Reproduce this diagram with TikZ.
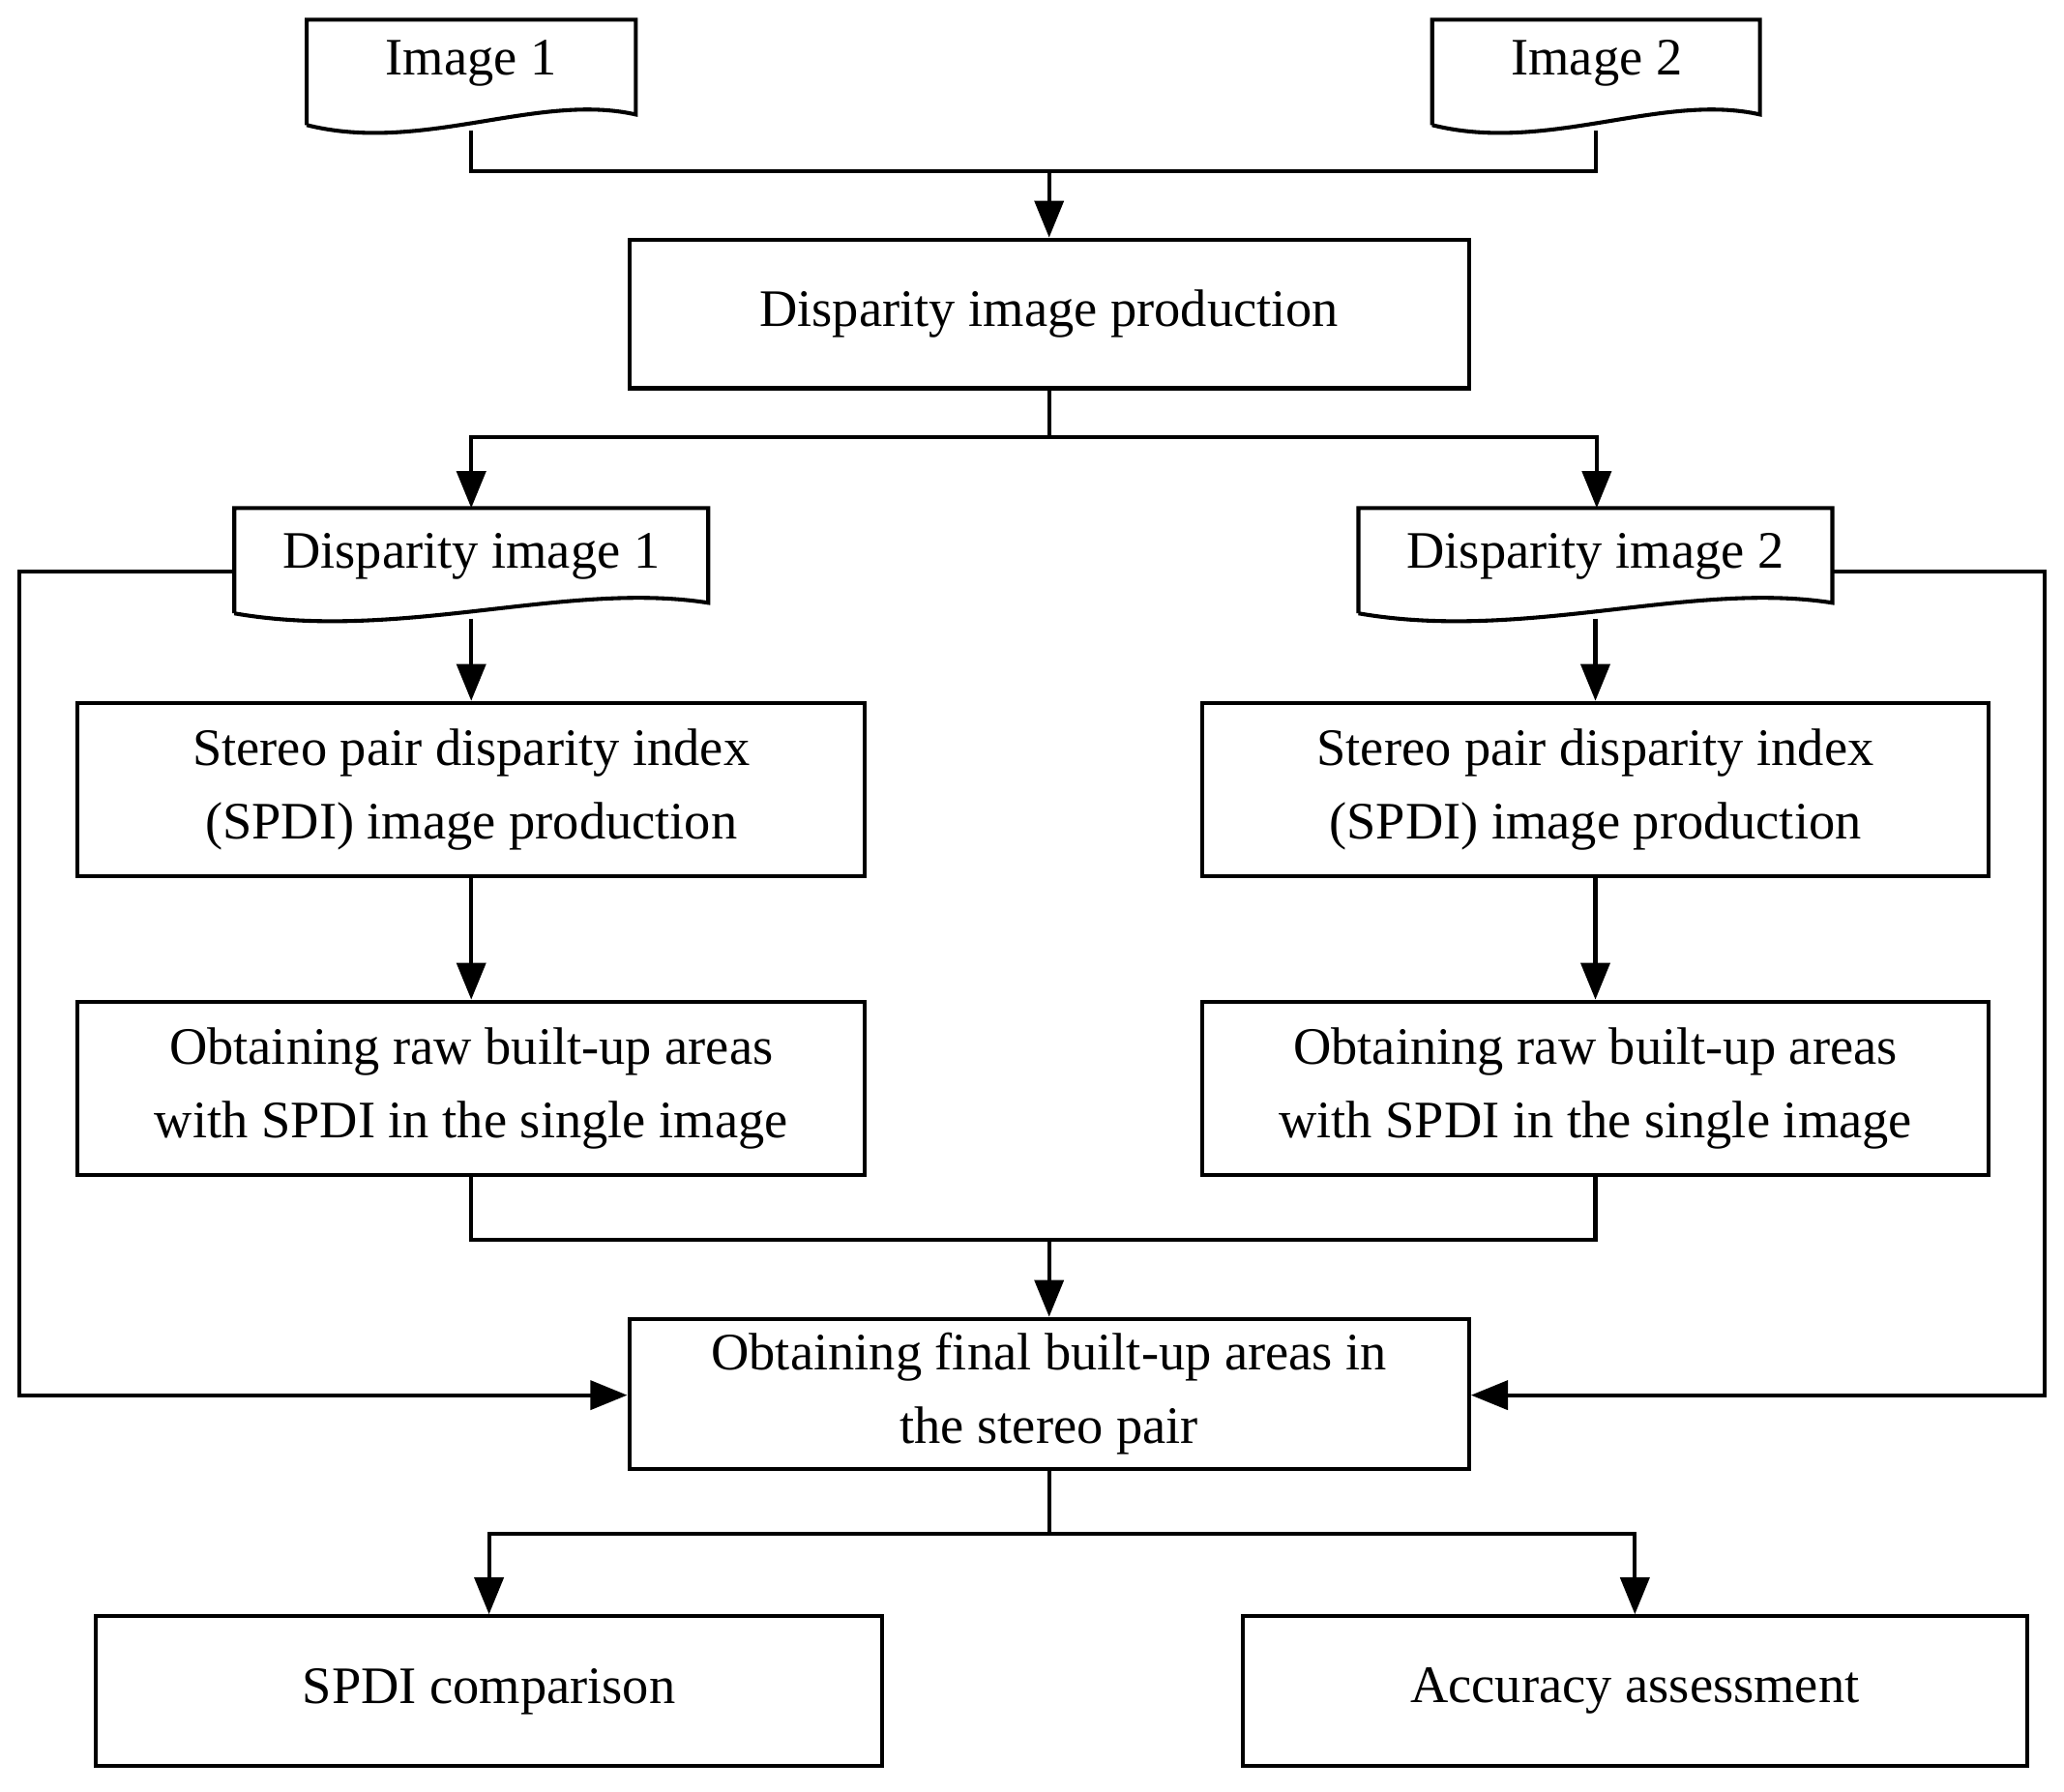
\documentclass[tikz,border=0pt]{standalone}
\usepackage{fontspec}
\setmainfont{Liberation Serif}
\usetikzlibrary{arrows.meta}
\begin{document}
\begin{tikzpicture}[x=1pt,y=-1pt,line width=3pt,
  box/.style={draw,line width=3pt,inner sep=0pt,align=center,font=\fontsize{40}{56}\selectfont},
  lbl/.style={inner sep=0pt,align=center,font=\fontsize{40}{56}\selectfont},
  arr/.style={-{Triangle[length=28pt,width=22pt]}},
  line join=miter]
\useasboundingbox (0,0) rectangle (1568,1361);
\newcommand\docshape[5]{% x0 x1 top bottom name
  \draw (#1,#4) -- (#1,#3) -- (#2,#3) -- (#2,#4-8)
    .. controls ({#2-0.3*(#2-#1)},{#4-25}) and ({#1+0.35*(#2-#1)},{#4+22}) .. (#1,#4);
  \coordinate (#5b) at ({(#1+#2)/2},{#4+4});
}
\docshape{233}{483}{15}{95}{im1}
\node[lbl] (im1) at (358,48) {Image 1};
\docshape{1088}{1337}{15}{95}{im2}
\node[lbl] (im2) at (1213,48) {Image 2};
\node[box,minimum width=638pt,minimum height=113pt] (dip) at (797,238.5) {Disparity image production};
\docshape{178}{538}{386}{466}{d1}
\node[lbl] (d1) at (358,423) {Disparity image 1};
\docshape{1032}{1392}{386}{466}{d2}
\node[lbl] (d2) at (1212,423) {Disparity image 2};
\node[box,minimum width=598pt,minimum height=132pt] (s1) at (358,600) {Stereo pair disparity index\\(SPDI) image production};
\node[box,minimum width=598pt,minimum height=132pt] (s2) at (1212,600) {Stereo pair disparity index\\(SPDI) image production};
\node[box,minimum width=598pt,minimum height=132pt] (r1) at (358,827) {Obtaining raw built-up areas\\with SPDI in the single image};
\node[box,minimum width=598pt,minimum height=132pt] (r2) at (1212,827) {Obtaining raw built-up areas\\with SPDI in the single image};
\node[box,minimum width=638pt,minimum height=114pt] (fin) at (797,1059) {Obtaining final built-up areas in\\the stereo pair};
\node[box,minimum width=597pt,minimum height=114pt] (cmp) at (371.5,1285) {SPDI comparison};
\node[box,minimum width=596pt,minimum height=114pt] (acc) at (1242,1285) {Accuracy assessment};
\coordinate (j1) at (797,130);
\draw (im1b) |- (j1) -| (im2b);
\draw[arr] (j1) -- (dip);
\coordinate (j2) at (797,332);
\draw (dip) -- (j2);
\draw[arr] (j2) -| (358,386);
\draw[arr] (j2) -| (1213,386);
\draw[arr] (d1b) -- (s1);
\draw[arr] (d2b) -- (s2);
\draw[arr] (s1) -- (r1);
\draw[arr] (s2) -- (r2);
\coordinate (j3) at (797,942);
\draw (r1) |- (j3) -| (r2);
\draw[arr] (j3) -- (fin);
\draw[arr] (178,434) -- (15,434) |- (fin.west|-0,1060);
\draw[arr] (1392,434) -- (1553,434) |- (fin.east|-0,1060);
\coordinate (j4) at (797,1165);
\draw (fin) -- (j4);
\draw[arr] (j4) -| (cmp);
\draw[arr] (j4) -| (acc);
\end{tikzpicture}
\end{document}
